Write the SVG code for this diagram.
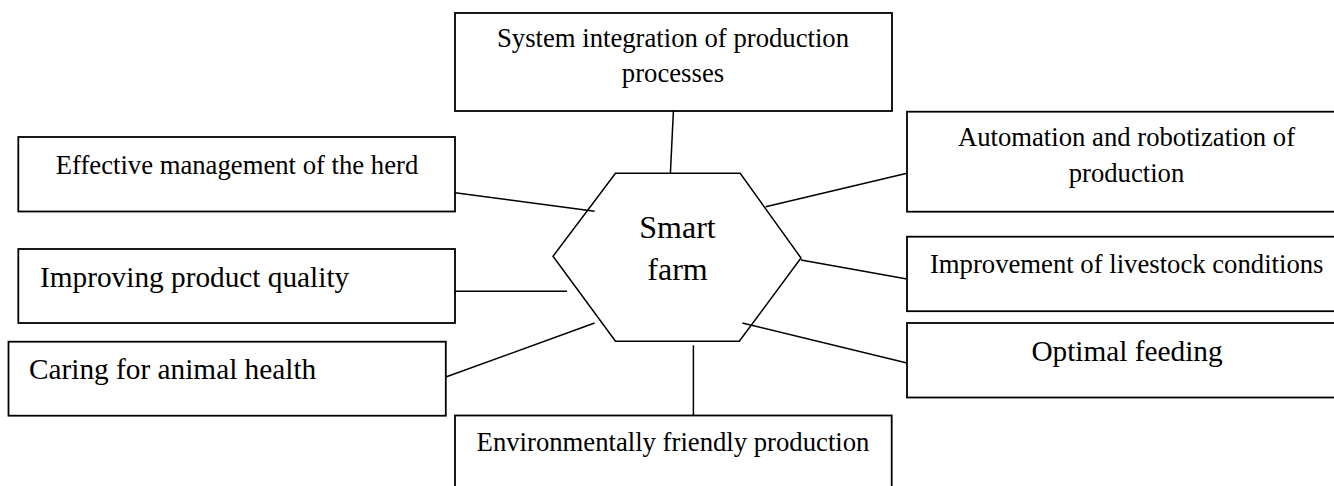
<svg xmlns="http://www.w3.org/2000/svg" width="1334" height="486" viewBox="0 0 1334 486">
  <style>
    .box { fill: #ffffff; stroke: #000000; stroke-width: 1.8; }
    .hex { fill: none; stroke: #000000; stroke-width: 1.5; stroke-linejoin: miter; }
    .link { stroke: #000000; stroke-width: 1.5; fill: none; }
    .lbl { font-family: "Liberation Serif", "Times New Roman", serif; font-size: 26.7px; fill: #000000; }
    .big { font-size: 29.3px; }
    .mid { text-anchor: middle; }
    .hub { font-family: "Liberation Serif", "Times New Roman", serif; font-size: 32px; fill: #000000; text-anchor: middle; }
  </style>
  <rect width="1334" height="486" fill="#ffffff"/>

  <!-- connectors between the hub and the surrounding boxes -->
  <g id="connectors">
    <line class="link" x1="673.4" y1="111" x2="670.4" y2="173.3"/>
    <line class="link" x1="455" y1="192.7" x2="594.6" y2="211.3"/>
    <line class="link" x1="765.7" y1="206.7" x2="907" y2="173.3"/>
    <line class="link" x1="801" y1="260" x2="907" y2="279"/>
    <line class="link" x1="742.3" y1="323" x2="907" y2="363"/>
    <line class="link" x1="693.4" y1="345.3" x2="693.4" y2="415.7"/>
    <line class="link" x1="455" y1="291.3" x2="567" y2="291.3"/>
    <line class="link" x1="445.8" y1="377" x2="594.6" y2="323"/>
  </g>

  <!-- central hub -->
  <g id="smart-farm">
    <polygon class="hex" points="615.5,173.3 740.2,173.3 801,258 739.3,341.3 615.5,341.3 553,256.3"/>
    <text class="hub" x="677.5" y="238.3">Smart</text>
    <text class="hub" x="677.5" y="280">farm</text>
  </g>

  <g id="system-integration">
    <rect class="box" x="455" y="13" width="437" height="98"/>
    <text class="lbl mid" x="673" y="47.3">System integration of production</text>
    <text class="lbl mid" x="673" y="82">processes</text>
  </g>

  <g id="herd-management">
    <rect class="box" x="18.3" y="137" width="436.7" height="74.5"/>
    <text class="lbl mid" x="237" y="173.5">Effective management of the herd</text>
  </g>

  <g id="automation">
    <rect class="box" x="907" y="111.7" width="439" height="100"/>
    <text class="lbl mid" x="1126.5" y="146">Automation and robotization of</text>
    <text class="lbl mid" x="1126.5" y="181.5">production</text>
  </g>

  <g id="livestock-conditions">
    <rect class="box" x="907" y="236.7" width="439" height="74.5"/>
    <text class="lbl mid" x="1126.7" y="273.3">Improvement of livestock conditions</text>
  </g>

  <g id="optimal-feeding">
    <rect class="box" x="907" y="323" width="439" height="74.5"/>
    <text class="lbl big mid" x="1127" y="360.5">Optimal feeding</text>
  </g>

  <g id="product-quality">
    <rect class="box" x="18.3" y="249" width="436.7" height="74"/>
    <text class="lbl big" x="40" y="286.7">Improving product quality</text>
  </g>

  <g id="animal-health">
    <rect class="box" x="8.5" y="341.7" width="437.3" height="74"/>
    <text class="lbl big" x="29" y="378.5">Caring for animal health</text>
  </g>

  <g id="eco-production">
    <rect class="box" x="455" y="415.5" width="436.7" height="80"/>
    <text class="lbl mid" x="673" y="451">Environmentally friendly production</text>
  </g>
</svg>
